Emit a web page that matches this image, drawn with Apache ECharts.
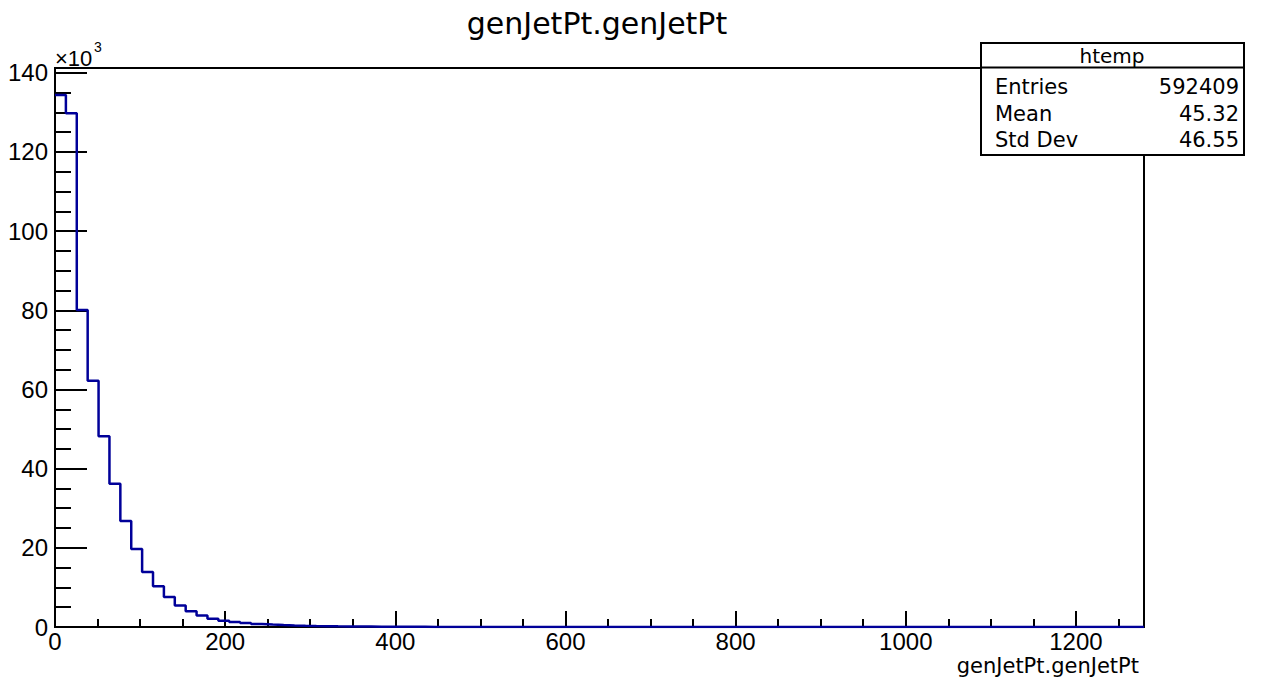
<!DOCTYPE html>
<html>
<head>
<meta charset="utf-8">
<script src="https://cdn.jsdelivr.net/npm/echarts@6/dist/echarts.min.js"></script>
<style>
html,body{margin:0;padding:0;background:#fff;}
#chart{width:1264px;height:680px;}
</style>
</head>
<body>
<div id="chart"></div>
<script>
// ---- data ----
const chartTitle = "genJetPt.genJetPt";
const xAxisTitle = "genJetPt.genJetPt";
const histName = "htemp";
const xMin = 0;
const xMax = 1280;
const nBins = 100;
// bin contents (entries per bin), 100 bins from 0 to 1280
const binCounts = [
  134400, 129800, 80100, 62200, 48200, 36200, 26800, 19700, 13900, 10300,
  7600, 5400, 4000, 2900, 2100, 1600, 1250, 1000, 780, 620,
  500, 400, 320, 260, 210, 170, 140, 115, 95, 78,
  64, 52, 43, 35, 29, 24, 20, 16, 13, 11,
  9, 8, 6, 5, 4, 4, 3, 3, 2, 2,
  2, 1, 1, 1, 1, 1, 1, 0, 1, 0,
  1, 0, 0, 1, 0, 0, 0, 0, 1, 0,
  0, 0, 0, 0, 0, 0, 0, 0, 0, 0,
  0, 0, 0, 0, 0, 0, 0, 0, 0, 0,
  0, 0, 0, 0, 0, 0, 0, 0, 0, 0
];
const xMajorTicks = [0, 200, 400, 600, 800, 1000, 1200];
const xMinorTicks = [50, 100, 150, 250, 300, 350, 450, 500, 550, 650, 700, 750, 850, 900, 950, 1050, 1100, 1150, 1250];
const yMax = 141200;
const yMajorTicks = [0, 20000, 40000, 60000, 80000, 100000, 120000, 140000];
const yMinorTicks = [5000, 10000, 15000, 25000, 30000, 35000, 45000, 50000, 55000, 65000, 70000, 75000,
  85000, 90000, 95000, 105000, 110000, 115000, 125000, 130000, 135000];
const statsLabels = ["Entries", "Mean", "Std Dev"];
const statsValues = ["592409", "45.32", "46.55"];

// ---- build ----
const binWidth = (xMax - xMin) / nBins;
const stepData = binCounts.map((c, i) => [xMin + i * binWidth, c]);
stepData.push([xMax, binCounts[binCounts.length - 1]]);

const FONT = "DejaVu Sans";
const TICKFONT = "Liberation Sans";
const chart = echarts.init(document.getElementById('chart'), null, {renderer: 'svg'});

const axisCommon = {
  axisLine: {show: true, lineStyle: {color: '#000', width: 2}},
  splitLine: {show: false},
};

const option = {
  backgroundColor: '#fff',
  animation: false,
  grid: {left: 55, right: 120, top: 68, bottom: 53, show: true, borderColor: '#000', borderWidth: 2,
         backgroundColor: 'transparent', containLabel: false, outerBoundsMode: 'none'},
  xAxis: [
    Object.assign({}, axisCommon, {
      type: 'value', min: xMin, max: xMax, position: 'bottom',
      axisTick: {show: true, inside: true, length: 16, customValues: xMajorTicks, lineStyle: {color: '#000', width: 2}},
      axisLabel: {show: true, customValues: xMajorTicks, margin: 2, color: '#000', fontFamily: TICKFONT, fontSize: 24,
                  formatter: v => String(v)},
      minorTick: {show: false}
    }),
    Object.assign({}, axisCommon, {
      type: 'value', min: xMin, max: xMax, position: 'bottom',
      axisTick: {show: true, inside: true, length: 8, customValues: xMinorTicks, lineStyle: {color: '#000', width: 2}},
      axisLabel: {show: false}
    })
  ],
  yAxis: [
    Object.assign({}, axisCommon, {
      type: 'value', min: 0, max: yMax, position: 'left',
      axisTick: {show: true, inside: true, length: 32, customValues: yMajorTicks, lineStyle: {color: '#000', width: 2}},
      axisLabel: {show: true, customValues: yMajorTicks, margin: 7, color: '#000', fontFamily: TICKFONT, fontSize: 24,
                  formatter: v => String(Math.round(v / 1000))},
      minorTick: {show: false}
    }),
    Object.assign({}, axisCommon, {
      type: 'value', min: 0, max: yMax, position: 'left',
      axisTick: {show: true, inside: true, length: 16, customValues: yMinorTicks, lineStyle: {color: '#000', width: 2}},
      axisLabel: {show: false}
    })
  ],
  series: [{
    type: 'line',
    name: histName,
    xAxisIndex: 0, yAxisIndex: 0,
    data: stepData,
    step: 'end',
    showSymbol: false,
    symbol: 'none',
    lineStyle: {color: '#000099', width: 2.5},
    z: 3
  }],
  graphic: [
    {type: 'text', x: 597, y: 23, z: 10,
     style: {text: chartTitle, fontFamily: FONT, fontSize: 30, fill: '#000', textAlign: 'center', textVerticalAlign: 'middle'}},
    {type: 'text', x: 1139, y: 666, z: 10,
     style: {text: xAxisTitle, fontFamily: FONT, fontSize: 21, fill: '#000', textAlign: 'right', textVerticalAlign: 'middle'}},
    {type: 'text', x: 55, y: 58, z: 10,
     style: {text: '×10', fontFamily: TICKFONT, fontSize: 22, fill: '#000', textAlign: 'left', textVerticalAlign: 'middle'}},
    {type: 'text', x: 94, y: 47, z: 10,
     style: {text: '3', fontFamily: TICKFONT, fontSize: 14, fill: '#000', textAlign: 'left', textVerticalAlign: 'middle'}},
    {type: 'rect', z: 20, shape: {x: 981, y: 43, width: 263, height: 112},
     style: {fill: '#fff', stroke: '#000', lineWidth: 2}},
    {type: 'line', z: 21, shape: {x1: 981, y1: 67.5, x2: 1244, y2: 67.5},
     style: {stroke: '#000', lineWidth: 2}},
    {type: 'text', x: 1112, y: 56, z: 22,
     style: {text: histName, fontFamily: FONT, fontSize: 20, fill: '#000', textAlign: 'center', textVerticalAlign: 'middle'}}
  ].concat(statsLabels.map((t, i) => ({
    type: 'text', x: 995, y: 87 + i * 26.5, z: 22,
    style: {text: t, fontFamily: FONT, fontSize: 21, fill: '#000', textAlign: 'left', textVerticalAlign: 'middle'}
  }))).concat(statsValues.map((t, i) => ({
    type: 'text', x: 1239, y: 87 + i * 26.5, z: 22,
    style: {text: t, fontFamily: FONT, fontSize: 21, fill: '#000', textAlign: 'right', textVerticalAlign: 'middle'}
  })))
};
chart.setOption(option);
</script>
</body>
</html>
